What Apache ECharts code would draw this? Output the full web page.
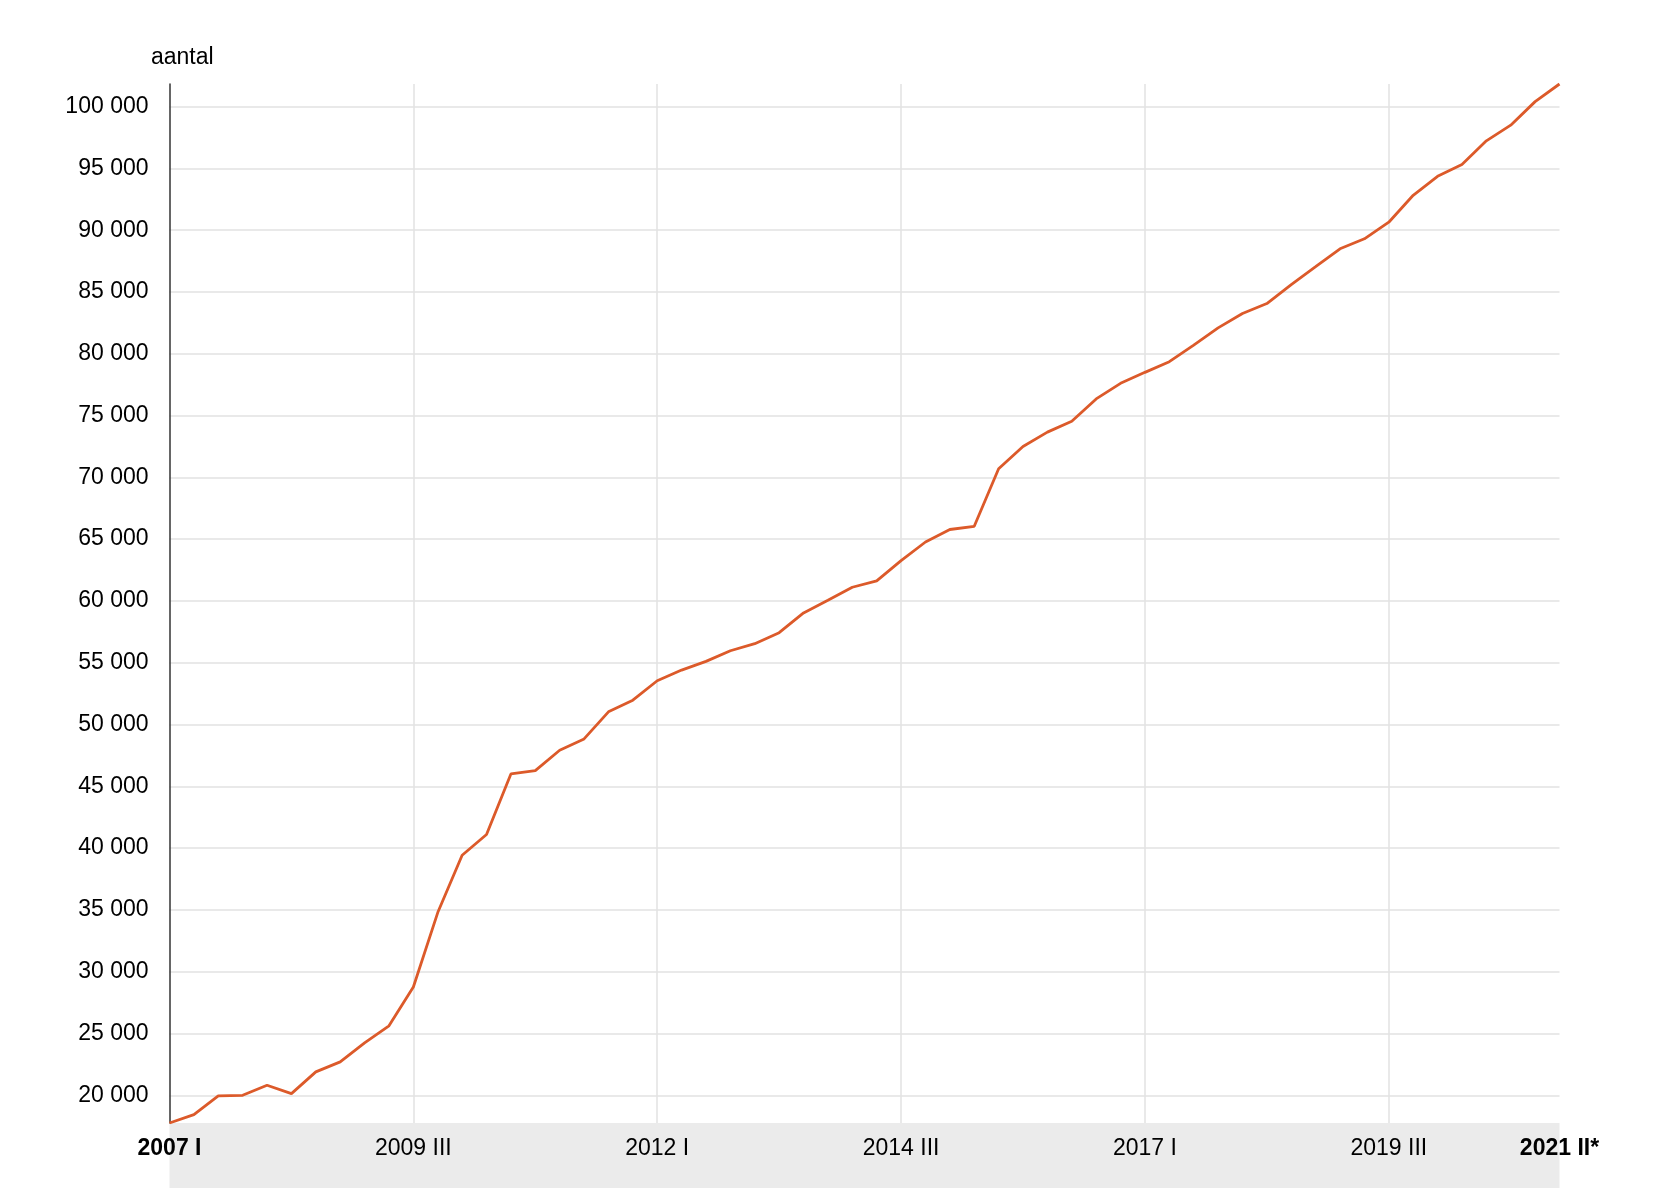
<!DOCTYPE html>
<html>
<head>
<meta charset="utf-8">
<script src="https://cdn.jsdelivr.net/npm/echarts@6/dist/echarts.min.js"></script>
<style>
html,body{margin:0;padding:0;background:#fff;}
#chart{width:1660px;height:1188px;}
</style>
</head>
<body>
<div id="chart"></div>
<script>
const years = [2007,2008,2009,2010,2011,2012,2013,2014,2015,2016,2017,2018,2019,2020,2021];
const quarterNames = ['I','II','III','IV'];
const categories = [];
years.forEach(y => quarterNames.forEach(q => {
  if (y === 2021 && (q === 'III' || q === 'IV')) return;
  categories.push(y === 2021 ? (y + ' ' + q + '*') : (y + ' ' + q));
}));

const aantal = [
  17757, 18432, 19946, 20000, 20811, 20135, 21892, 22703, 24243, 25622,
  28757, 34784, 39420, 41100, 46000, 46270, 47916, 48834, 51026, 51971,
  53542, 54406, 55108, 55972, 56539, 57430, 59028, 60054, 61107, 61620,
  63260, 64770, 65780, 66040, 70699, 72502, 73658, 74543, 76345, 77609,
  78497, 79358, 80699, 82098, 83255, 84062, 85600, 87044, 88497, 89304,
  90646, 92825, 94355, 95323, 97232, 98497, 100403, 101829
];

const yTicks = [20000,25000,30000,35000,40000,45000,50000,55000,60000,65000,70000,75000,80000,85000,90000,95000,100000];
const xLabelIndices = [0,10,20,30,40,50,57];
const xGridIndices = [10,20,30,40,50];

const FONT = '"Liberation Sans", Arial, sans-serif';
const chart = echarts.init(document.getElementById('chart'), null, {renderer:'canvas'});

function fmt(v){
  return String(v).replace(/\B(?=(\d{3})+(?!\d))/g, ' ');
}

chart.setOption({
  animation: false,
  backgroundColor: '#ffffff',
  title: {
    text: 'aantal',
    left: 146, top: 41,
    textStyle: {fontFamily: FONT, fontSize: 23, fontWeight: 'normal', color: '#000'}
  },
  grid: [
    {left: 169.5, right: 100.5, top: 84, bottom: 65, containLabel: false},
    {left: 169.5, right: 100.5, top: 1123, bottom: 0, show: true, backgroundColor: '#ebebeb', borderWidth: 0, z: -1}
  ],
  xAxis: [
    {
      type: 'category', gridIndex: 0, data: categories, boundaryGap: false,
      axisLine: {show: false},
      axisTick: {show: false},
      axisLabel: {
        interval: (i) => xLabelIndices.indexOf(i) >= 0,
        margin: 14,
        color: '#000',
        fontFamily: FONT, fontSize: 23,
        formatter: (v, i) => (i === 0 || i === categories.length - 1) ? '{b|' + v + '}' : v,
        rich: {b: {fontWeight: 'bold', fontFamily: FONT, fontSize: 23, color: '#000'}}
      },
      splitLine: {
        show: true,
        interval: (i) => xGridIndices.indexOf(i) >= 0,
        lineStyle: {color: '#e2e2e2', width: 1.5}
      }
    },
    {type: 'category', gridIndex: 1, show: false, data: ['']}
  ],
  yAxis: [
    {
      type: 'value', gridIndex: 0,
      min: 'dataMin', max: 'dataMax',
      axisLine: {show: true, lineStyle: {color: '#333', width: 1.5}},
      axisTick: {show: false, customValues: yTicks},
      axisLabel: {
        customValues: yTicks,
        margin: 21,
        color: '#000',
        fontFamily: FONT, fontSize: 23,
        padding: [8, 0, 0, 0],
        formatter: (v) => fmt(v)
      },
      splitLine: {show: true, lineStyle: {color: '#e2e2e2', width: 1.5}}
    },
    {type: 'value', gridIndex: 1, show: false}
  ],
  series: [{
    type: 'line',
    xAxisIndex: 0, yAxisIndex: 0,
    data: aantal,
    showSymbol: false,
    symbol: 'none',
    lineStyle: {color: '#dc5a2a', width: 2.8},
    z: 5
  }]
});
</script>
</body>
</html>
